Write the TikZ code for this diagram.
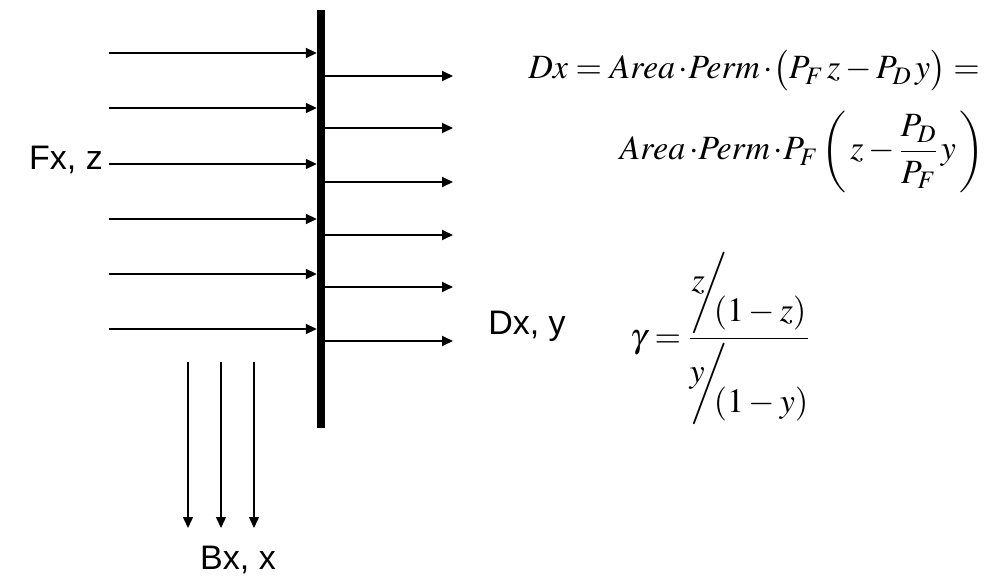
\documentclass[tikz,border=0pt]{standalone}
\usepackage{amsmath}
\usepackage{mathptmx}
\usepackage{fontspec}
\setmainfont{Liberation Serif}
\newfontfamily\arialfont{Liberation Sans}
\usetikzlibrary{arrows.meta}

\newcommand{\slashfrac}[2]{\raisebox{0.3em}{$#1$}\mkern-7mu\bigg/\mkern-7mu\raisebox{-0.6em}{$#2$}}
\newcommand{\dt}{\,{\cdot}}

\begin{document}
\begin{tikzpicture}[
  x=1pt, y=-1pt,
  arr/.style={-{Triangle[length=11pt,width=10pt]}, line width=1.8pt},
  downarr/.style={-{Triangle[length=11pt,width=10pt]}, line width=1.5pt},
  lbl/.style={font={\arialfont\fontsize{34}{40}\selectfont}, inner sep=0pt},
  eq/.style={font={\fontsize{34}{40}\selectfont}, inner sep=0pt},
  membrane/.style={
    fill=black,
    inner sep=0pt,
    minimum width=8pt,
    minimum height=418pt
  }
]
\useasboundingbox (0,0) rectangle (990,580);

% -------------------------------------------------
% Membrane
% -------------------------------------------------
\node[membrane] (mem) at (321,219) {};

% -------------------------------------------------
% LABELS
% -------------------------------------------------
\node[lbl] (feed) at (66,160) {Fx, z};
\node[lbl] (perm) at (527,326) {Dx, y};
\node[lbl] (bott) at (238,560) {Bx, x};

% -------------------------------------------------
% EQUATIONS
% -------------------------------------------------
\node[eq, anchor=base east] (eq1) at (980,79)
  {$Dx = Area\dt Perm\dt\bigl(P_F\,z - P_D\,y\bigr)=$};
\node[eq, anchor=base east] (eq2) at (985,160)
  {$Area\dt Perm\dt P_F\left(\,z-\dfrac{P_D}{P_F}\,y\,\right)$};
\node[eq, anchor=base west] (sep) at (630,347)
  {$\gamma=\dfrac{\slashfrac{z}{(1-z)}}{\slashfrac{y}{(1-y)}}$};

% -------------------------------------------------
% Feed side: start points
% -------------------------------------------------
\coordinate (f1) at (109,53);
\coordinate (f2) at (109,108);
\coordinate (f3) at (109,164);
\coordinate (f4) at (109,219);
\coordinate (f5) at (109,274);
\coordinate (f6) at (109,329);

% Permeate side: end points
\coordinate (d1) at (453,76);
\coordinate (d2) at (453,128);
\coordinate (d3) at (453,182);
\coordinate (d4) at (453,235);
\coordinate (d5) at (453,287);
\coordinate (d6) at (453,341);

% Bottoms: start and end points
\coordinate (b1) at (188,362);
\coordinate (b2) at (221,362);
\coordinate (b3) at (254,362);
\coordinate (e1) at (188,528);
\coordinate (e2) at (221,528);
\coordinate (e3) at (254,528);

% -------------------------------------------------
% ARROWS
% -------------------------------------------------
% Feed -> membrane
\draw[arr] (f1) -- (f1 -| mem.west);
\draw[arr] (f2) -- (f2 -| mem.west);
\draw[arr] (f3) -- (f3 -| mem.west);
\draw[arr] (f4) -- (f4 -| mem.west);
\draw[arr] (f5) -- (f5 -| mem.west);
\draw[arr] (f6) -- (f6 -| mem.west);

% membrane -> permeate
\draw[arr] (d1 -| mem.east) -- (d1);
\draw[arr] (d2 -| mem.east) -- (d2);
\draw[arr] (d3 -| mem.east) -- (d3);
\draw[arr] (d4 -| mem.east) -- (d4);
\draw[arr] (d5 -| mem.east) -- (d5);
\draw[arr] (d6 -| mem.east) -- (d6);

% bottoms
\draw[downarr] (b1) -- (e1);
\draw[downarr] (b2) -- (e2);
\draw[downarr] (b3) -- (e3);

\end{tikzpicture}
\end{document}
